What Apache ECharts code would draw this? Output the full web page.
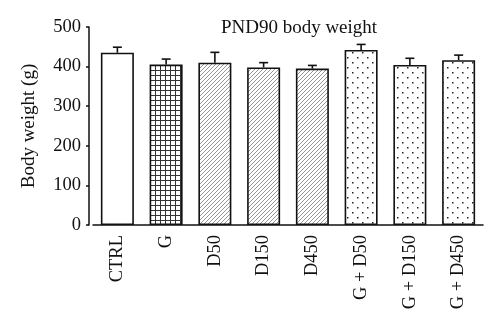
<!DOCTYPE html>
<html><head><meta charset="utf-8">
<script src="https://cdn.jsdelivr.net/npm/echarts@6/dist/echarts.min.js"></script>
<style>html,body{margin:0;padding:0;background:#fff}#c{width:500px;height:331px}</style>
</head><body><div id="c"></div>
<script>
const categories = ['CTRL','G','D50','D150','D450','G + D50','G + D150','G + D450'];
const means = [435, 405, 410, 398, 395, 442, 404, 416];
const errors = [14, 14, 26, 12, 8, 14, 17, 13];
const patterns = ['none','grid','hatch','hatch','hatch','dots','dots','dots'];
const yTicks = [0, 100, 200, 300, 400, 500];

function makePattern(kind){
  const c = document.createElement('canvas');
  const ctx = c.getContext('2d');
  if (kind === 'grid'){
    c.width = 5; c.height = 5;
    ctx.fillStyle = '#fff'; ctx.fillRect(0,0,5,5);
    ctx.fillStyle = '#333';
    ctx.fillRect(0,0,5,1); ctx.fillRect(0,0,1,5);
  } else if (kind === 'hatch'){
    c.width = 4; c.height = 4;
    ctx.fillStyle = '#fff'; ctx.fillRect(0,0,4,4);
    ctx.strokeStyle = '#8a8a8a'; ctx.lineWidth = 0.9;
    ctx.beginPath();
    ctx.moveTo(-1,5); ctx.lineTo(5,-1);
    ctx.moveTo(-1,1); ctx.lineTo(1,-1);
    ctx.moveTo(3,5); ctx.lineTo(5,3);
    ctx.stroke();
  } else if (kind === 'dots'){
    c.width = 10; c.height = 10;
    ctx.fillStyle = '#fff'; ctx.fillRect(0,0,10,10);
    ctx.fillStyle = '#222';
    ctx.fillRect(2,2,1.5,1.5); ctx.fillRect(7,7,1.5,1.5);
  } else {
    return '#fff';
  }
  return {image: c, repeat: 'repeat'};
}

const font = '"Liberation Serif", "DejaVu Serif", serif';
const chart = echarts.init(document.getElementById('c'));
chart.setOption({
  animation: false,
  backgroundColor: '#fff',
  title: {
    text: 'PND90 body weight', left: 294, top: 14, textAlign: 'center',
    textStyle: {fontFamily: font, fontSize: 19, fontWeight: 'normal', color: '#111'}
  },
  grid: {left: 93, right: 17, top: 27, bottom: 106},
  xAxis: {
    type: 'category', data: categories,
    axisLine: {lineStyle: {color: '#111', width: 1.5}},
    axisTick: {show: false},
    axisLabel: {rotate: 90, margin: 10, fontFamily: font, fontSize: 18.5, color: '#111', interval: 0}
  },
  yAxis: {
    type: 'value', min: 0, max: 500, interval: 100, offset: 4,
    name: 'Body weight (g)', nameLocation: 'middle', nameGap: 50,
    nameTextStyle: {fontFamily: font, fontSize: 19, color: '#111'},
    axisLine: {show: true, lineStyle: {color: '#111', width: 1.5}},
    axisTick: {show: true, length: 3, lineStyle: {color: '#111', width: 1.5}},
    splitLine: {show: false},
    axisLabel: {margin: 8, fontFamily: font, fontSize: 18.5, color: '#111',
      formatter: v => yTicks.includes(v) ? String(v) : ''}
  },
  series: [
    {
      type: 'bar', barWidth: 33,
      data: means.map((v,i) => ({value: v, itemStyle: {color: makePattern(patterns[i])}})),
      itemStyle: {borderColor: '#111', borderWidth: 1.6}
    },
    {
      type: 'custom',
      data: means.map((v,i) => [i, v, v + errors[i]]),
      renderItem: function(params, api){
        const p0 = api.coord([api.value(0), api.value(1)]);
        const p1 = api.coord([api.value(0), api.value(2)]);
        const hw = 4.5;
        return {type: 'group', children: [
          {type: 'line', shape: {x1: p0[0], y1: p0[1], x2: p1[0], y2: p1[1]}, style: {stroke: '#111', lineWidth: 1.6}},
          {type: 'line', shape: {x1: p1[0]-hw, y1: p1[1], x2: p1[0]+hw, y2: p1[1]}, style: {stroke: '#111', lineWidth: 1.6}}
        ]};
      },
      z: 3
    }
  ]
});
</script></body></html>
